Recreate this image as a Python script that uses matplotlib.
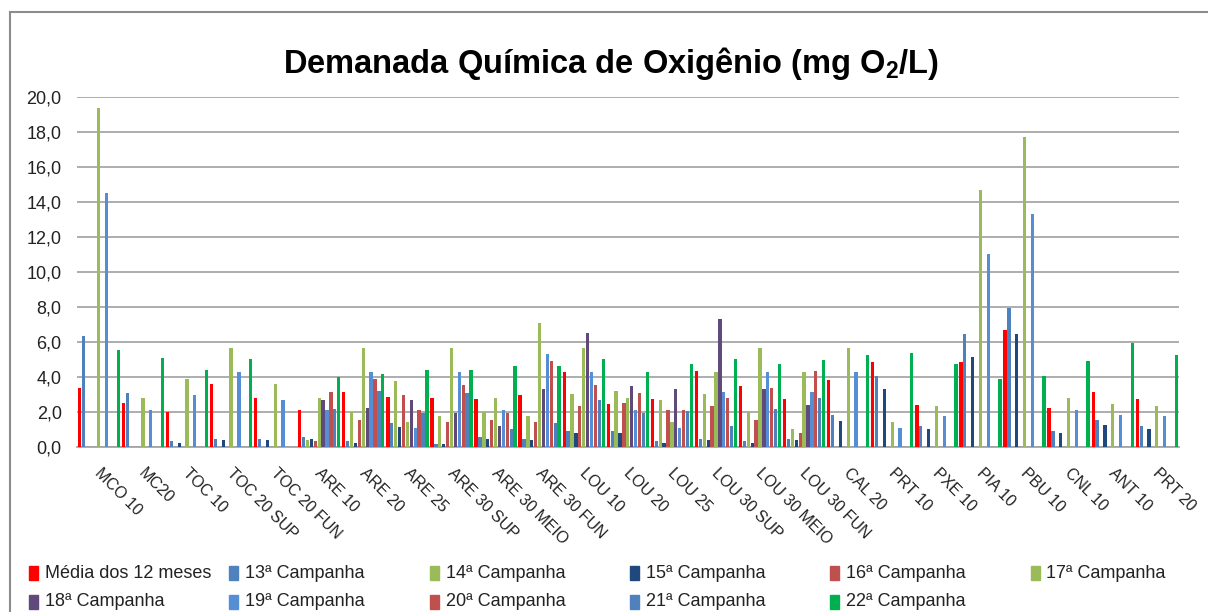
import numpy as np
import matplotlib
matplotlib.use('Agg')
import matplotlib.pyplot as plt
from matplotlib.lines import Line2D
from matplotlib.patches import Rectangle

stations = ["MCO 10", "MC20", "TOC 10", "TOC 20 SUP", "TOC 20 FUN", "ARE 10", "ARE 20",
            "ARE 25", "ARE 30 SUP", "ARE 30 MEIO", "ARE 30 FUN", "LOU 10", "LOU 20",
            "LOU 25", "LOU 30 SUP", "LOU 30 MEIO", "LOU 30 FUN", "CAL 20", "PRT 10",
            "PXE 10", "PIA 10", "PBU 10", "CNL 10", "ANT 10", "PRT 20"]

media = [3.35, 2.54, 2.0, 3.59, 2.8, 2.12, 3.15, 2.88, 2.8, 2.73, 2.96, 4.27, 2.46,
         2.73, 4.33, 3.51, 2.73, 3.85, 4.83, 2.4, 4.83, 6.7, 2.25, 3.15, 2.75]
c13 = [6.34, 3.09, 0.32, 0.46, 0.46, 0.59, 0.32, 1.35, 0.17, 0.59, 0.46, 0.94, 0.94,
       0.32, 0.46, 0.32, 0.46, 1.85, 4.07, 1.22, 6.43, 7.96, 0.94, 1.56, 1.22]
c14 = [0, 0, 0, 0, 0, 0.38, 2.0, 3.78, 1.77, 2.0, 1.77, 3.02, 3.22,
       2.67, 3.02, 2.0, 1.01, 0, 0, 0, 0, 0, 0, 0, 0]
c15 = [0, 0, 0.25, 0.38, 0.38, 0.46, 0.25, 1.15, 0.17, 0.46, 0.38, 0.8, 0.8,
       0.25, 0.38, 0.25, 0.38, 1.49, 3.3, 1.01, 5.17, 6.43, 0.8, 1.28, 1.01]
c16 = [0, 0, 0, 0, 0, 0.32, 1.56, 2.96, 1.43, 1.56, 1.43, 2.33, 2.54,
       2.12, 2.33, 1.56, 0.8, 0, 0, 0, 0, 0, 0, 0, 0]
c17 = [19.37, 2.8, 3.9, 5.67, 3.59, 2.8, 5.67, 1.43, 5.67, 2.8, 7.06, 5.67, 2.8,
       1.43, 4.27, 5.67, 4.27, 5.67, 1.43, 2.33, 14.69, 17.73, 2.8, 2.46, 2.33]
c18 = [0, 0, 0, 0, 0, 2.67, 2.25, 2.67, 1.93, 1.22, 3.3, 6.49, 3.51,
       3.3, 7.33, 3.3, 2.4, 0, 0, 0, 0, 0, 0, 0, 0]
c19 = [14.54, 2.12, 2.96, 4.27, 2.67, 2.12, 4.27, 1.09, 4.27, 2.12, 5.3, 4.27, 2.12,
       1.07, 3.15, 4.27, 3.15, 4.27, 1.09, 1.77, 11.01, 13.3, 2.12, 1.85, 1.77]
c20 = [0, 0, 0, 0, 0, 3.15, 3.91, 2.12, 3.57, 1.93, 4.9, 3.57, 3.09,
       2.12, 2.8, 3.36, 4.33, 0, 0, 0, 0, 0, 0, 0, 0]
c21 = [0, 0, 0, 0, 0, 2.18, 3.22, 1.93, 3.09, 1.01, 1.35, 2.67, 1.93,
       2.04, 1.22, 2.19, 2.8, 0, 0, 0, 0, 0, 0, 0, 0]
c22 = [5.52, 5.11, 4.4, 5.02, 0, 4.0, 4.2, 4.4, 4.4, 4.62, 4.62, 5.04, 4.27,
       4.75, 5.04, 4.75, 4.96, 5.25, 5.38, 4.75, 3.91, 4.07, 4.89, 5.94, 5.25]

series_labels = ["Média dos 12 meses", "13ª Campanha", "14ª Campanha", "15ª Campanha",
                 "16ª Campanha", "17ª Campanha", "18ª Campanha", "19ª Campanha",
                 "20ª Campanha", "21ª Campanha", "22ª Campanha"]
series_values = [media, c13, c14, c15, c16, c17, c18, c19, c20, c21, c22]
colors = ["#FF0000", "#4F81BD", "#9BBB59", "#1F497D", "#C0504D", "#9BBB59",
          "#604A7B", "#558ED5", "#C0504D", "#4F81BD", "#00B050"]

plt.rcParams['font.family'] = ['Liberation Sans', 'DejaVu Sans']
plt.rcParams['mathtext.fontset'] = 'custom'
plt.rcParams['mathtext.rm'] = 'Liberation Sans:bold'

W, H = 1208, 612
fig = plt.figure(figsize=(W / 100, H / 100), dpi=100)
ax = fig.add_axes([77 / W, 1 - 447 / H, (1179 - 77) / W, (447 - 97) / H])

x = np.arange(len(stations))
step = 0.0885
for i, (vals, col) in enumerate(zip(series_values, colors)):
    ax.bar(x - 0.447 + i * step, vals, width=0.075, color=col, zorder=3)

ax.set_xlim(-0.5, len(stations) - 0.5)
ax.set_ylim(0, 20)
yt = np.arange(0, 21, 2)
ax.set_yticks(yt)
ax.set_yticklabels([f"{v:.1f}".replace('.', ',') for v in yt], fontsize=13, color="#222222")
ax.yaxis.grid(True, color="#A0A0A0", linewidth=1.2, zorder=0)
for s in ['top', 'right', 'left']:
    ax.spines[s].set_visible(False)
ax.spines['bottom'].set_color("#A0A0A0")
ax.spines['bottom'].set_linewidth(1.2)
ax.tick_params(axis='y', length=0, pad=11)
ax.tick_params(axis='x', length=0, pad=13)
ax.set_xticks(x + 0.08)
ax.set_xticklabels(stations, rotation=-45, ha='left', va='top', rotation_mode='anchor',
                   fontsize=11.5, color="#222222")

fig.text(611 / W, 1 - 63 / H, "Demanada Química de Oxigênio (mg O$_{\\mathrm{2}}$/L)",
         fontsize=23.5, fontweight='bold', ha='center', va='center')

# legend laid out row by row like the original
for k, (lab, col) in enumerate(zip(series_labels, colors)):
    row, cl = divmod(k, 6)
    x0 = 29 + 200.3 * cl
    yc = 573 + 29 * row
    fig.add_artist(Rectangle((x0 / W, 1 - (yc + 7) / H), 9 / W, 14 / H,
                             transform=fig.transFigure, color=col))
    fig.text((x0 + 16) / W, 1 - yc / H, lab, fontsize=13, ha='left', va='center',
             color="#222222")

# chart border
fig.add_artist(Line2D([10 / W, 1], [1 - 12 / H, 1 - 12 / H], color="#8C8C8C", lw=1.5))
fig.add_artist(Line2D([10 / W, 10 / W], [0, 1 - 12 / H], color="#8C8C8C", lw=1.5))

fig.savefig("out.png", dpi=100)
